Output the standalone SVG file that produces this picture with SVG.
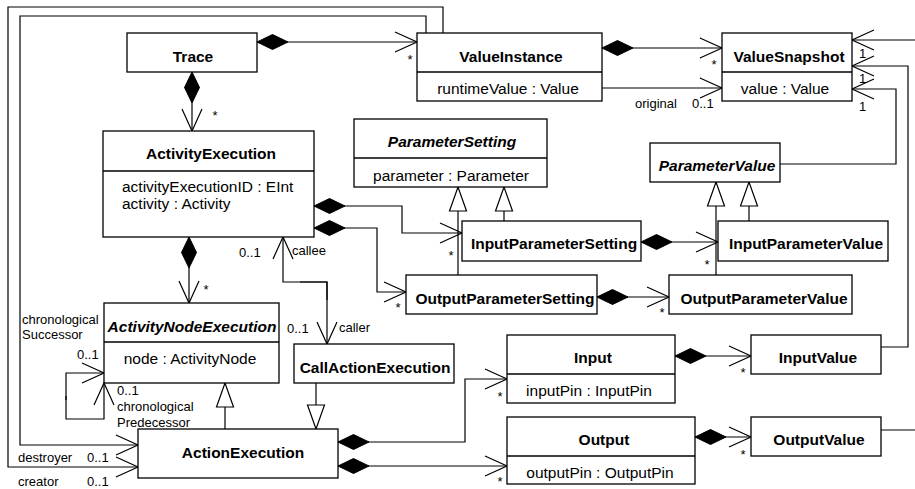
<svg xmlns="http://www.w3.org/2000/svg" width="915" height="489" viewBox="0 0 915 489">
<style>
rect.n{fill:#fff;stroke:#000;stroke-width:1.3}
line.sep{stroke:#000;stroke-width:1.3}
.c path{fill:none;stroke:#000;stroke-width:1.2}
text{font-family:"Liberation Sans",Arial,Helvetica,sans-serif;fill:#000}
.b{font-size:15.5px;font-weight:bold;text-anchor:middle}
.i{font-style:italic}
.r{font-size:15.5px}
.m{text-anchor:middle}
.s{font-size:13px}
</style>
<defs>
<marker id="arr" markerUnits="userSpaceOnUse" viewBox="-1 -11 25 22" markerWidth="25" markerHeight="22" refX="22" refY="0" orient="auto">
<path d="M0,-10 L22,0 L0,10" fill="none" stroke="#000" stroke-width="1.2"/>
</marker>
<marker id="dia" markerUnits="userSpaceOnUse" viewBox="-1 -9 34 18" markerWidth="34" markerHeight="18" refX="0" refY="0" orient="auto">
<path d="M0,0 L15.5,-7.5 L31,0 L15.5,7.5 Z" fill="#000" stroke="#000" stroke-width="1"/>
</marker>
<marker id="gen" markerUnits="userSpaceOnUse" viewBox="-1 -10 27 20" markerWidth="27" markerHeight="20" refX="24" refY="0" orient="auto">
<path d="M0,-8.5 L24,0 L0,8.5 Z" fill="#fff" stroke="#000" stroke-width="1.2"/>
</marker>
</defs>

<g id="connectors" class="c">
<path d="M257,42 H417" marker-start="url(#dia)" marker-end="url(#arr)"/>
<path d="M192,72 V131" marker-start="url(#dia)" marker-end="url(#arr)"/>
<path d="M602,48 H722" marker-start="url(#dia)" marker-end="url(#arr)"/>
<path d="M602,88 H722" marker-end="url(#arr)"/>
<path d="M443,33 V7 H8 V467 H138" marker-end="url(#arr)"/>
<path d="M426,33 V16 H20 V445 H138" marker-end="url(#arr)"/>
<path d="M915,40 H852" marker-end="url(#arr)"/>
<path d="M881,347 H908 V66 H852" marker-end="url(#arr)"/>
<path d="M780,164 H896 V89 H852" marker-end="url(#arr)"/>
<path d="M881,430 H915"/>
<path d="M314,206 H402 V233 H462" marker-start="url(#dia)" marker-end="url(#arr)"/>
<path d="M314,228 H377 V292 H406" marker-start="url(#dia)" marker-end="url(#arr)"/>
<path d="M189,237 V303" marker-start="url(#dia)" marker-end="url(#arr)"/>
<path d="M327,300 V282 H283 V237" marker-end="url(#arr)"/>
<path d="M300,282 H327 V344" marker-end="url(#arr)"/>
<path d="M458,275 V187" marker-end="url(#gen)"/>
<path d="M504,221 V187" marker-end="url(#gen)"/>
<path d="M641,242 H718" marker-start="url(#dia)" marker-end="url(#arr)"/>
<path d="M597,297 H669" marker-start="url(#dia)" marker-end="url(#arr)"/>
<path d="M716,275 V182" marker-end="url(#gen)"/>
<path d="M749,221 V182" marker-end="url(#gen)"/>
<path d="M66,400 V373 H104" marker-end="url(#arr)"/>
<path d="M66,396 V419 H104 V383" marker-end="url(#arr)"/>
<path d="M316,383 V429" marker-end="url(#gen)"/>
<path d="M225,429 V383" marker-end="url(#gen)"/>
<path d="M338,442 H465 V379 H507" marker-start="url(#dia)" marker-end="url(#arr)"/>
<path d="M338,466 H507" marker-start="url(#dia)" marker-end="url(#arr)"/>
<path d="M675,356 H751" marker-start="url(#dia)" marker-end="url(#arr)"/>
<path d="M695,437 H751" marker-start="url(#dia)" marker-end="url(#arr)"/>
</g>

<g id="labels" class="s">
<text x="410" y="64" class="m">*</text>
<text x="215" y="120" class="m">*</text>
<text x="714" y="69" class="m">*</text>
<text x="635" y="108">original</text>
<text x="692" y="108">0..1</text>
<text x="859" y="58">1</text>
<text x="859" y="83">1</text>
<text x="859" y="111">1</text>
<text x="239" y="257">0..1</text>
<text x="292" y="255">callee</text>
<text x="206" y="294" class="m">*</text>
<text x="451" y="260" class="m">*</text>
<text x="398" y="312" class="m">*</text>
<text x="287" y="333">0..1</text>
<text x="339" y="332">caller</text>
<text x="22" y="324">chronological</text>
<text x="22" y="339">Successor</text>
<text x="77" y="359">0..1</text>
<text x="117" y="395">0..1</text>
<text x="117" y="411">chronological</text>
<text x="117" y="427">Predecessor</text>
<text x="18" y="462">destroyer</text>
<text x="87" y="462">0..1</text>
<text x="18" y="486">creator</text>
<text x="87" y="486">0..1</text>
<text x="500" y="401" class="m">*</text>
<text x="500" y="486" class="m">*</text>
<text x="743" y="377" class="m">*</text>
<text x="743" y="459" class="m">*</text>
<text x="707" y="269" class="m">*</text>
<text x="662" y="317" class="m">*</text>
</g>

<g id="Trace"><rect class="n" x="127" y="33" width="130" height="39"/><text class="b" x="193" y="62">Trace</text></g>
<g id="ValueInstance"><rect class="n" x="417" y="33" width="185" height="68"/><line class="sep" x1="417" y1="72" x2="602" y2="72"/><text class="b" x="511" y="62">ValueInstance</text><text class="r m" x="508" y="94">runtimeValue : Value</text></g>
<g id="ValueSnapshot"><rect class="n" x="722" y="33" width="130" height="68"/><line class="sep" x1="722" y1="72" x2="852" y2="72"/><text class="b" x="789" y="62">ValueSnapshot</text><text class="r m" x="785" y="94">value : Value</text></g>
<g id="ActivityExecution"><rect class="n" x="103" y="131" width="211" height="106"/><line class="sep" x1="103" y1="171" x2="314" y2="171"/><text class="b" x="211" y="159">ActivityExecution</text><text class="r" x="122" y="192">activityExecutionID : EInt</text><text class="r" x="122" y="209">activity : Activity</text></g>
<g id="ParameterSetting"><rect class="n" x="354" y="119" width="193" height="68"/><line class="sep" x1="354" y1="158" x2="547" y2="158"/><text class="b i" x="452" y="147">ParameterSetting</text><text class="r m" x="451" y="181">parameter : Parameter</text></g>
<g id="ParameterValue"><rect class="n" x="650" y="143" width="130" height="39"/><text class="b i" x="717" y="171">ParameterValue</text></g>
<g id="InputParameterSetting"><rect class="n" x="462" y="221" width="179" height="40"/><text class="b" x="554" y="249">InputParameterSetting</text></g>
<g id="InputParameterValue"><rect class="n" x="718" y="221" width="170" height="40"/><text class="b" x="806" y="249">InputParameterValue</text></g>
<g id="OutputParameterSetting"><rect class="n" x="406" y="275" width="191" height="39"/><text class="b" x="505" y="304">OutputParameterSetting</text></g>
<g id="OutputParameterValue"><rect class="n" x="669" y="275" width="183" height="39"/><text class="b" x="764" y="304">OutputParameterValue</text></g>
<g id="ActivityNodeExecution"><rect class="n" x="104" y="303" width="175" height="80"/><line class="sep" x1="104" y1="342" x2="279" y2="342"/><text class="b i" x="192" y="332">ActivityNodeExecution</text><text class="r m" x="190" y="364">node : ActivityNode</text></g>
<g id="CallActionExecution"><rect class="n" x="294" y="344" width="160" height="39"/><text class="b" x="375" y="373">CallActionExecution</text></g>
<g id="ActionExecution"><rect class="n" x="138" y="429" width="200" height="49"/><text class="b" x="243" y="458">ActionExecution</text></g>
<g id="Input"><rect class="n" x="507" y="335" width="168" height="68"/><line class="sep" x1="507" y1="374" x2="675" y2="374"/><text class="b" x="593" y="363">Input</text><text class="r m" x="589" y="396">inputPin : InputPin</text></g>
<g id="InputValue"><rect class="n" x="751" y="335" width="130" height="39"/><text class="b" x="818" y="363">InputValue</text></g>
<g id="Output"><rect class="n" x="507" y="417" width="188" height="67"/><line class="sep" x1="507" y1="456" x2="695" y2="456"/><text class="b" x="604" y="445">Output</text><text class="r m" x="600" y="478">outputPin : OutputPin</text></g>
<g id="OutputValue"><rect class="n" x="751" y="417" width="130" height="39"/><text class="b" x="819" y="445">OutputValue</text></g>
</svg>
